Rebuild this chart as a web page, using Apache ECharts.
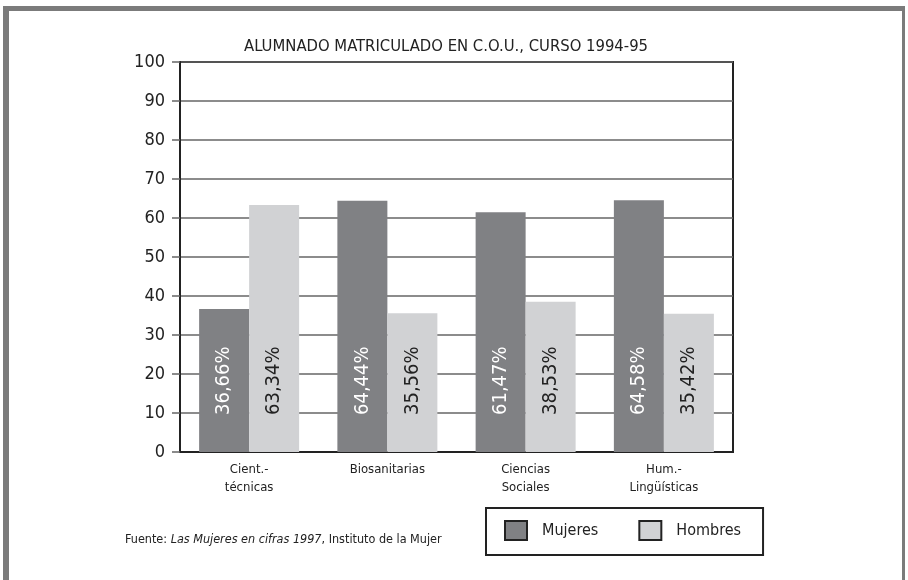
<!DOCTYPE html>
<html>
<head>
<meta charset="utf-8">
<script src="https://cdn.jsdelivr.net/npm/echarts@6/dist/echarts.min.js"></script>
<style>html,body{margin:0;padding:0;background:#fff;}#c{width:908px;height:580px;}</style>
</head>
<body>
<div id="c"></div>
<script>
const categories = ['Cient.-\ntécnicas', 'Biosanitarias', 'Ciencias\nSociales', 'Hum.-\nLingüísticas'];
const mujeres = [36.66, 64.44, 61.47, 64.58];
const hombres = [63.34, 35.56, 38.53, 35.42];
const seriesNames = ['Mujeres', 'Hombres'];
const titleText = 'ALUMNADO MATRICULADO EN C.O.U., CURSO 1994-95';

const FONT = '"Liberation Sans Narrow", "DejaVu Sans Condensed", sans-serif';
const DARK = '#808184';
const LIGHT = '#d1d2d4';
const fmt = p => p.value.toFixed(2).replace('.', ',') + '%';

const chart = echarts.init(document.getElementById('c'), null, {renderer: 'canvas'});
chart.setOption({
  backgroundColor: '#fff',
  animation: false,
  textStyle: {fontFamily: FONT},
  title: {
    text: titleText,
    left: 239,
    top: 33,
    textStyle: {fontFamily: FONT, fontSize: 16.5, fontWeight: 'normal', color: '#222'}
  },
  grid: {
    left: 180, right: 175, top: 62, bottom: 128,
    show: true, borderColor: '#222', borderWidth: 2, backgroundColor: 'transparent'
  },
  legend: {
    left: 486, top: 508,
    orient: 'horizontal',
    padding: [12, 22, 14, 18],
    itemGap: 40,
    itemWidth: 22, itemHeight: 19,
    borderColor: '#222', borderWidth: 2,
    icon: 'rect',
    itemStyle: {borderColor: '#222', borderWidth: 2},
    textStyle: {fontFamily: FONT, fontSize: 16, color: '#222', padding: [0, 0, 0, 10]},
    data: seriesNames
  },
  xAxis: {
    type: 'category',
    data: categories,
    axisLine: {lineStyle: {color: '#222', width: 2}},
    axisTick: {show: false},
    axisLabel: {fontFamily: FONT, fontSize: 13, color: '#222', margin: 9, lineHeight: 18}
  },
  yAxis: {
    type: 'value',
    min: 0, max: 100, interval: 10,
    axisLine: {show: true, lineStyle: {color: '#222', width: 2}},
    axisTick: {show: true, length: 8, lineStyle: {color: '#666', width: 1.5}},
    splitLine: {lineStyle: {color: '#666', width: 1.5}},
    axisLabel: {fontFamily: FONT, fontSize: 18, color: '#222', margin: 15}
  },
  series: [
    {
      name: seriesNames[0], type: 'bar', data: mujeres,
      barWidth: 50, barGap: '0%',
      itemStyle: {color: DARK},
      label: {show: true, position: 'insideBottom', distance: 37, rotate: 90,
              align: 'left', verticalAlign: 'middle',
              fontFamily: FONT, fontSize: 20, color: '#fff', formatter: fmt}
    },
    {
      name: seriesNames[1], type: 'bar', data: hombres,
      barWidth: 50,
      itemStyle: {color: LIGHT},
      label: {show: true, position: 'insideBottom', distance: 37, rotate: 90,
              align: 'left', verticalAlign: 'middle',
              fontFamily: FONT, fontSize: 20, color: '#222', formatter: fmt}
    }
  ],
  graphic: [
    {type: 'rect', shape: {x: 3, y: 6, width: 902, height: 5}, style: {fill: '#7b7b7b'}, silent: true},
    {type: 'rect', shape: {x: 3, y: 6, width: 6, height: 574}, style: {fill: '#7b7b7b'}, silent: true},
    {type: 'rect', shape: {x: 902, y: 6, width: 3, height: 574}, style: {fill: '#7b7b7b'}, silent: true},
    {
      type: 'text', left: 125, top: 533,
      style: {
        text: '{n|Fuente: }{i|Las Mujeres en cifras 1997}{n|, Instituto de la Mujer}',
        rich: {
          n: {fontFamily: FONT, fontSize: 12.5, fill: '#222', color: '#222'},
          i: {fontFamily: FONT, fontSize: 12.5, fontStyle: 'italic', fill: '#222', color: '#222'}
        }
      }
    }
  ]
});
</script>
</body>
</html>
